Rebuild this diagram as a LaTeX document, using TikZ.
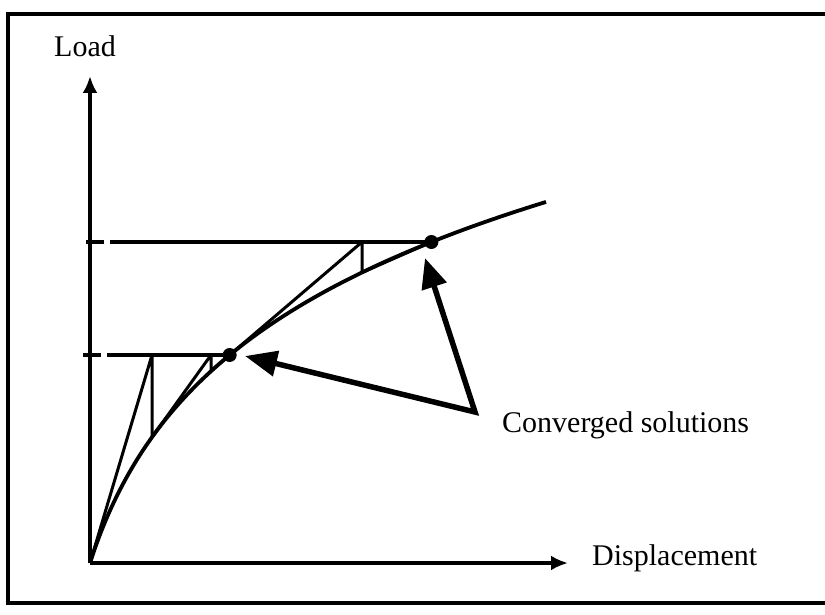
\documentclass[tikz,border=0pt]{standalone}
\usepackage{fontspec}
\setmainfont{Liberation Serif}
\usetikzlibrary{positioning, arrows.meta}

\begin{document}
\begin{tikzpicture}[
  x=1pt, y=1pt,
  lbl/.style={font=\fontsize{30}{35}\selectfont, inner sep=0pt, anchor=base west},
  axis/.style={line width=4.5pt, -{Latex[length=17pt, width=15pt]}},
  frame/.style={line width=4pt},
  curve/.style={line width=3.8pt},
  iter/.style={line width=3pt, line join=round},
  level/.style={line width=3.5pt, dash pattern=on 18pt off 6pt on 2000pt},
  dot/.style={circle, fill, inner sep=0pt, minimum size=14pt},
  conv/.style={line width=5.5pt, line join=miter,
               {Triangle[length=32pt, width=25pt]}-{Triangle[length=30pt, width=25pt]}}
]
  \useasboundingbox (-90,-51) rectangle (735,563);
  \draw[frame] (735,549) -- (-82,549) -- (-82,-40) -- (735,-40);

  \coordinate (orig) at (0,0);
  \coordinate (ytip) at (0,487);
  \coordinate (xtip) at (478,0);
  \draw[axis] (orig) -- (ytip);
  \draw[axis] (orig) -- (xtip);

  \node[lbl] (load) at (-36,506) {Load};
  \node[lbl] (disp) at (502,-2) {Displacement};
  \node[lbl] (convtxt) at (412,131) {Converged solutions};

  \draw[curve] plot[domain=0:456, samples=90, smooth] (\x, {156*ln(1+\x/50)});

  \node[dot] (lowdot) at (139.7,208) {};
  \node[dot] (updot) at (341.4,321) {};

  \coordinate (lowlev) at (-7,208);
  \coordinate (uplev) at (-4,321);
  \draw[level] (uplev) -- (updot.center);
  \draw[level] (lowlev) -- (lowdot.center);

  \coordinate (p1) at (62,208);
  \coordinate (c1) at (62,125.8);
  \coordinate (p2) at (121,208);
  \coordinate (c2) at (121,191.8);
  \coordinate (p3) at (272,321);
  \coordinate (c3) at (272,290.5);
  \draw[iter] (orig) -- (p1) -- (c1) -- (p2) -- (c2) -- (lowdot.center);
  \draw[iter] (lowdot.center) -- (p3) -- (c3) -- (updot.center);

  \coordinate (cvtx) at (385,151);
  \coordinate (lowtip) at (155,207);
  \coordinate (uptip) at (335,305);
  \draw[conv] (lowtip) -- (cvtx) -- (uptip);
\end{tikzpicture}
\end{document}
